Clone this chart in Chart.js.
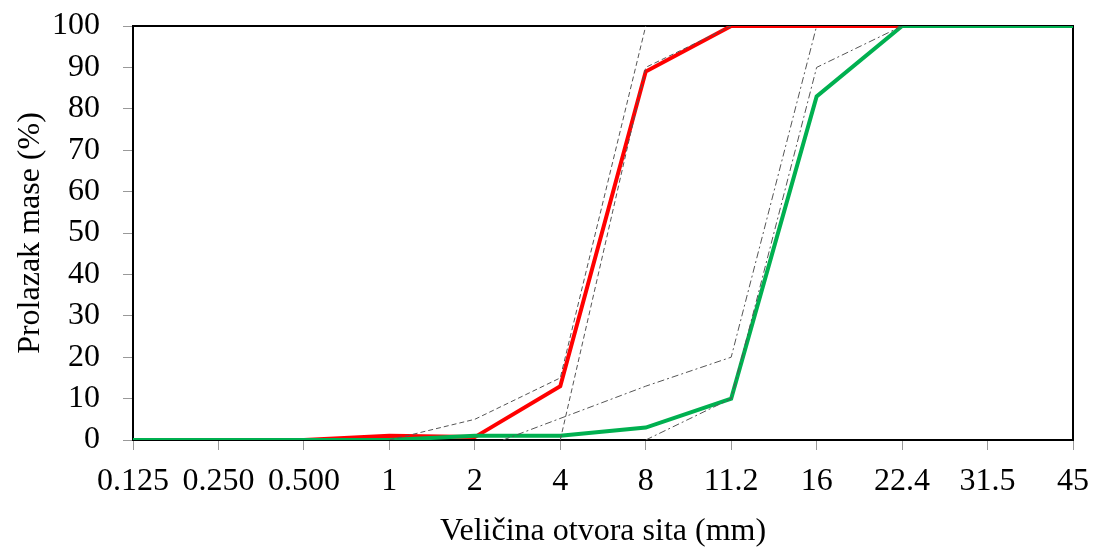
<!DOCTYPE html>
<html>
<head>
<meta charset="utf-8">
<script src="https://cdn.jsdelivr.net/npm/chart.js@4"></script>
<style>
  html, body { margin:0; padding:0; background:#fff; }
  #wrap { width:1093px; height:547px; }
</style>
</head>
<body>
<div id="wrap"><canvas id="grading"></canvas></div>
<script>
// sieve openings (mm), evenly spaced on the axis
const sieveLabels = ['0.125','0.250','0.500','1','2','4','8','11.2','16','22.4','31.5','45'];

// passing (%) of the two aggregates
const redPassing   = [0,0,0,1,0.7,13,89,100,100,100,100,100];
const greenPassing = [0,0,0,0,1,1,3,10,83,100,100,100];

// grading envelopes (x = sieve position on the axis)
const fineUpperX = [3,4,5,6],      fineUpperY = [0,5,15,100];
const fineLowerX = [5,6,7],        fineLowerY = [0,90,100];
const coarseUpperX = [4.33,6,7,8], coarseUpperY = [0,13,20,100];
const coarseLowerX = [6,7,8,9],    coarseLowerY = [0,10,90,100];

const yTicks = [0,10,20,30,40,50,60,70,80,90,100];

const pts = (xs, ys) => xs.map((x,i)=>({x, y: ys[i]}));
const seriesPts = vals => vals.map((v,i)=>({x:i, y:v}));

const FONT = 'Liberation Serif';

const frame = {
  id:'frame',
  beforeDatasetsDraw(chart){
    const {ctx, chartArea:a} = chart;
    ctx.save();
    ctx.strokeStyle = '#000';
    ctx.lineWidth = 2;
    ctx.strokeRect(a.left, a.top, a.right-a.left, a.bottom-a.top);
    ctx.restore();
  }
};

const dashed = (data) => ({ data, borderColor:'#555', borderWidth:1, borderDash:[5,3], pointRadius:0, showLine:true, fill:false });
const dashDot = (data) => ({ data, borderColor:'#555', borderWidth:1, borderDash:[7,3,2,3], pointRadius:0, showLine:true, fill:false });

new Chart(document.getElementById('grading'), {
  type:'scatter',
  data:{
    datasets:[
      dashed(pts(fineUpperX, fineUpperY)),
      dashed(pts(fineLowerX, fineLowerY)),
      dashDot(pts(coarseUpperX, coarseUpperY)),
      dashDot(pts(coarseLowerX, coarseLowerY)),
      { data: seriesPts(greenPassing), borderColor:'#00B050', borderWidth:4, pointRadius:0, showLine:true, fill:false },
      { data: seriesPts(redPassing), borderColor:'#FF0000', borderWidth:4, pointRadius:0, showLine:true, fill:false }
    ]
  },
  options:{
    responsive:true,
    maintainAspectRatio:false,
    animation:false,
    layout:{ padding:{ left:0, right:20, top:26, bottom:0 } },
    plugins:{ legend:{display:false}, tooltip:{enabled:false} },
    scales:{
      x:{
        type:'linear', min:0, max:sieveLabels.length-1,
        afterFit(s){ s.height = 107; s.paddingLeft = 0; s.paddingRight = 0; },
        border:{ display:false },
        grid:{ drawOnChartArea:false, color:'#999', tickLength:10 },
        ticks:{ stepSize:1, autoSkip:false, maxRotation:0, padding:12, color:'#000',
          font:{ family:FONT, size:32 },
          callback: v => sieveLabels[v] },
        title:{ display:true, text:'Veličina otvora sita (mm)', color:'#000',
          font:{ family:FONT, size:32 }, padding:{ top:0, bottom:-4 } }
      },
      y:{
        min:0, max:100,
        afterFit(s){ s.width = 133; s.paddingTop = 0; s.paddingBottom = 0; },
        afterBuildTicks(s){ s.ticks = yTicks.map(v=>({value:v})); },
        border:{ display:false },
        grid:{ drawOnChartArea:false, color:'#999', tickLength:10 },
        ticks:{ padding:23, color:'#000', font:{ family:FONT, size:32 } },
        title:{ display:true, text:'Prolazak mase (%)', color:'#000',
          font:{ family:FONT, size:32 }, padding:{ top:11, bottom:0 } }
      }
    }
  },
  plugins:[frame]
});
</script>
</body>
</html>
